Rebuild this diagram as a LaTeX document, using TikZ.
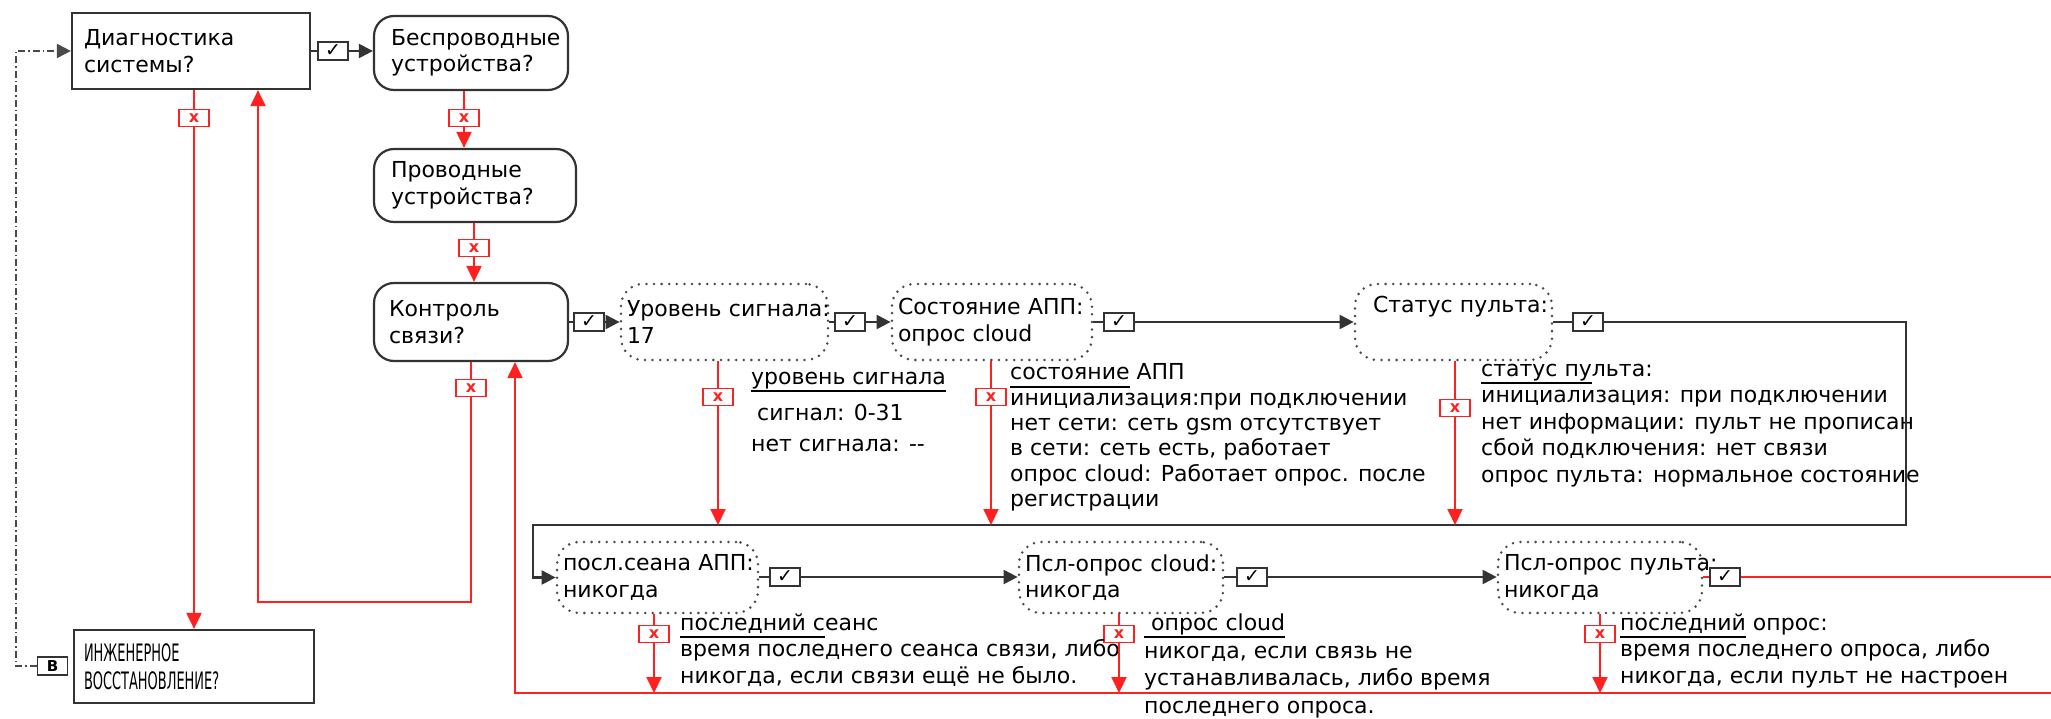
\documentclass[tikz,border=0pt]{standalone}
\usepackage{fontspec}
\setmainfont{DejaVu Sans}
\newfontfamily\capsfont[FakeStretch=0.54]{DejaVu Sans}
\usetikzlibrary{arrows.meta}

\definecolor{linegray}{HTML}{333333}
\definecolor{dotgray}{HTML}{4A4A4A}
\definecolor{nored}{HTML}{FF2020}

\newsavebox\ulbox
\newcommand\undl[1]{\sbox\ulbox{#1}\rlap{\rule[-8pt]{\wd\ulbox}{2pt}}\usebox\ulbox}

\tikzset{
  sqbox/.style={draw=linegray, line width=2.2pt, inner xsep=12pt, inner ysep=0pt, align=left},
  rndbox/.style={sqbox, rounded corners=20pt, inner xsep=17pt},
  dotbox/.style={draw=dotgray, line width=2.8pt, line cap=round, dash pattern=on 0pt off 7.6pt,
    rounded corners=22pt, inner xsep=6pt, inner ysep=0pt, align=left},
  okbox/.style={draw=linegray, line width=1.8pt, fill=white, minimum width=30pt, minimum height=18pt,
    inner sep=0pt, font=\fontsize{19}{19}\selectfont},
  nobox/.style={draw=nored, line width=1.6pt, fill=white, text=nored, minimum width=30pt,
    minimum height=17pt, inner sep=0pt, font=\bfseries\fontsize{16}{16}\selectfont},
  bbox/.style={draw=linegray, line width=1.8pt, minimum width=30pt, minimum height=18pt,
    inner sep=0pt, font=\bfseries\fontsize{15}{15}\selectfont},
  note/.style={anchor=north west, inner sep=0pt, align=left, execute at begin node=\strut},
  okline/.style={draw=linegray, line width=2.2pt},
  okarrow/.style={okline, -{Triangle[length=14pt,width=14pt]}},
  noline/.style={draw=nored, line width=2pt},
  noarrow/.style={noline, -{Triangle[length=16pt,width=15pt]}},
  resetline/.style={draw=dotgray, line width=2pt, dash pattern=on 7pt off 3pt on 1.5pt off 3pt,
    -{Triangle[length=14pt,width=14pt]}},
}

\begin{document}
\begin{tikzpicture}[x=1pt, y=-1pt, font=\fontsize{22}{26.5}\selectfont]
  \fill[white] (0,0) rectangle (2051,719);
  \useasboundingbox (0,0) rectangle (2051,719);

  % left column
  \node[sqbox, minimum height=76pt, text width=214pt] (diag) at (191,51) {Диагностика\\системы?};
  \node[rndbox, minimum height=74pt, text width=160pt] (wless) at (471,53) {Беспроводные\\устройства?};
  \node[rndbox, minimum height=73pt, text width=168pt] (wired) at (475,185.5) {Проводные\\устройства?};
  \node[rndbox, minimum height=78pt, text width=164pt, inner xsep=15pt] (conn) at (471,322) {Контроль\\связи?};
  \node[sqbox, minimum height=73pt, text width=220pt, inner xsep=10pt,
        font=\capsfont\fontsize{24}{28}\selectfont] (eng) at (194,666.5) {ИНЖЕНЕРНОЕ\\ВОССТАНОВЛЕНИЕ?};
  \node[bbox] (bmk) at (52.5,666) {B};

  % upper row of values
  \node[dotbox, minimum height=76pt, text width=195pt] (lvl) at (724.5,322) {\mbox{Уровень сигнала:}\\17};
  \node[dotbox, minimum height=76pt, text width=188pt] (app) at (992,322) {\mbox{Состояние АПП:}\\опрос cloud};
  \node[dotbox, minimum height=76pt, text width=161pt, inner xsep=18pt] (stat) at (1453.5,322) {\mbox{Статус пульта:}\\\strut};

  % lower row of values
  \node[dotbox, minimum height=71pt, text width=189pt] (last) at (657.5,577.5) {\mbox{посл.сеана АПП:}\\никогда};
  \node[dotbox, minimum height=71pt, text width=192pt] (cloud) at (1121,577.5) {\mbox{Псл-опрос cloud:}\\никогда};
  \node[dotbox, minimum height=71pt, text width=192pt] (psl) at (1600,577.5) {\mbox{Псл-опрос пульта:}\\никогда};

  % yes marks
  \node[okbox] (ck1) at (333,51) {✓};
  \node[okbox] (ck2) at (589,322) {✓};
  \node[okbox] (ck3) at (850,322) {✓};
  \node[okbox] (ck4) at (1119,322) {✓};
  \node[okbox] (ck5) at (1588,322) {✓};
  \node[okbox] (ck6) at (785,577) {✓};
  \node[okbox] (ck7) at (1252,577) {✓};
  \node[okbox] (ck8) at (1725,577) {✓};

  % no marks
  \node[nobox] (x1) at (194,118) {x};
  \node[nobox] (x2) at (464,118) {x};
  \node[nobox] (x3) at (474,248) {x};
  \node[nobox] (x4) at (471,388) {x};
  \node[nobox] (x5) at (718,397) {x};
  \node[nobox] (x6) at (991,397) {x};
  \node[nobox] (x7) at (1455,408) {x};
  \node[nobox] (x8) at (654,634) {x};
  \node[nobox] (x9) at (1119,634) {x};
  \node[nobox] (x10) at (1600,634) {x};

  % notes
  \node[note] (lvlnote) at (751,371.5) {\undl{уровень сигнала}\\[9.5pt]\hspace*{6pt}сигнал: 0-31\\[4.5pt]нет сигнала: -{}-};
  \node[note, font=\fontsize{22}{25.4}\selectfont] (appnote) at (1010,363.5) {\undl{состояние} АПП\\инициализация:при подключении\\нет сети: сеть gsm отсутствует\\в сети: сеть есть, работает\\опрос cloud: Работает опрос. после\\регистрации};
  \node[note] (statnote) at (1481,363.5) {\undl{статус пу}льта:\\инициализация: при подключении\\нет информации: пульт не прописан\\сбой подключения: нет связи\\опрос пульта: нормальное состояние};
  \node[note] (lastnote) at (680,613.5) {\undl{последний с}еанс\\время последнего сеанса связи, либо\\никогда, если связи ещё не было.};
  \node[note, font=\fontsize{22}{27.7}\selectfont] (cloudnote) at (1144,613.5) {\undl{\ опрос cloud}\\никогда, если связь не\\устанавливалась, либо время\\последнего опроса.};
  \node[note] (pslnote) at (1620,613.5) {\undl{последний} опрос:\\время последнего опроса, либо\\никогда, если пульт не настроен};

  % turning points
  \coordinate (loopR) at (1906,525);
  \coordinate (loopL) at (533,525);
  \coordinate (backL) at (258,602);
  \coordinate (retR) at (2051,693);
  \coordinate (retL) at (515,693);
  \coordinate (dashL) at (16,666);

  % yes branches
  \foreach \a/\c/\b in {diag/ck1/wless, conn/ck2/lvl, lvl/ck3/app, app/ck4/stat, last/ck6/cloud, cloud/ck7/psl} {
    \draw[okline] (\a.east |- \c) -- (\c.west);
    \draw[okarrow] (\c.east) -- (\c.east -| \b.west);
  }
  \draw[okline] (stat.east |- ck5) -- (ck5.west);
  \draw[okarrow] (ck5.east) -| (loopR) -- (loopL) |- (last.west);
  \draw[noline] (psl.east |- ck8) -- (ck8.west);
  \draw[noline] (ck8.east) -- (ck8.east -| retR);

  % no branches
  \foreach \n/\a/\b in {x1/diag/eng, x2/wless/wired, x3/wired/conn} {
    \draw[noline] (\n |- \a.south) -- (\n.north);
    \draw[noarrow] (\n.south) -- (\n |- \b.north);
  }
  \draw[noline] (x4 |- conn.south) -- (x4.north);
  \draw[noarrow] (x4.south) |- (backL) -- (backL |- diag.south);
  \foreach \n/\a in {x5/lvl, x6/app, x7/stat} {
    \draw[noline] (\n |- \a.south) -- (\n.north);
    \draw[noarrow] (\n.south) -- (\n |- loopL);
  }
  \foreach \n/\a in {x8/last, x9/cloud, x10/psl} {
    \draw[noline] (\n |- \a.south) -- (\n.north);
    \draw[noarrow] (\n.south) -- (\n |- retL);
  }
  \draw[noarrow] (retR) -- (retL) -- (retL |- conn.south);

  % back to the start
  \draw[resetline] (bmk.west) -- (bmk.west -| dashL) |- (diag.west);
\end{tikzpicture}
\end{document}
